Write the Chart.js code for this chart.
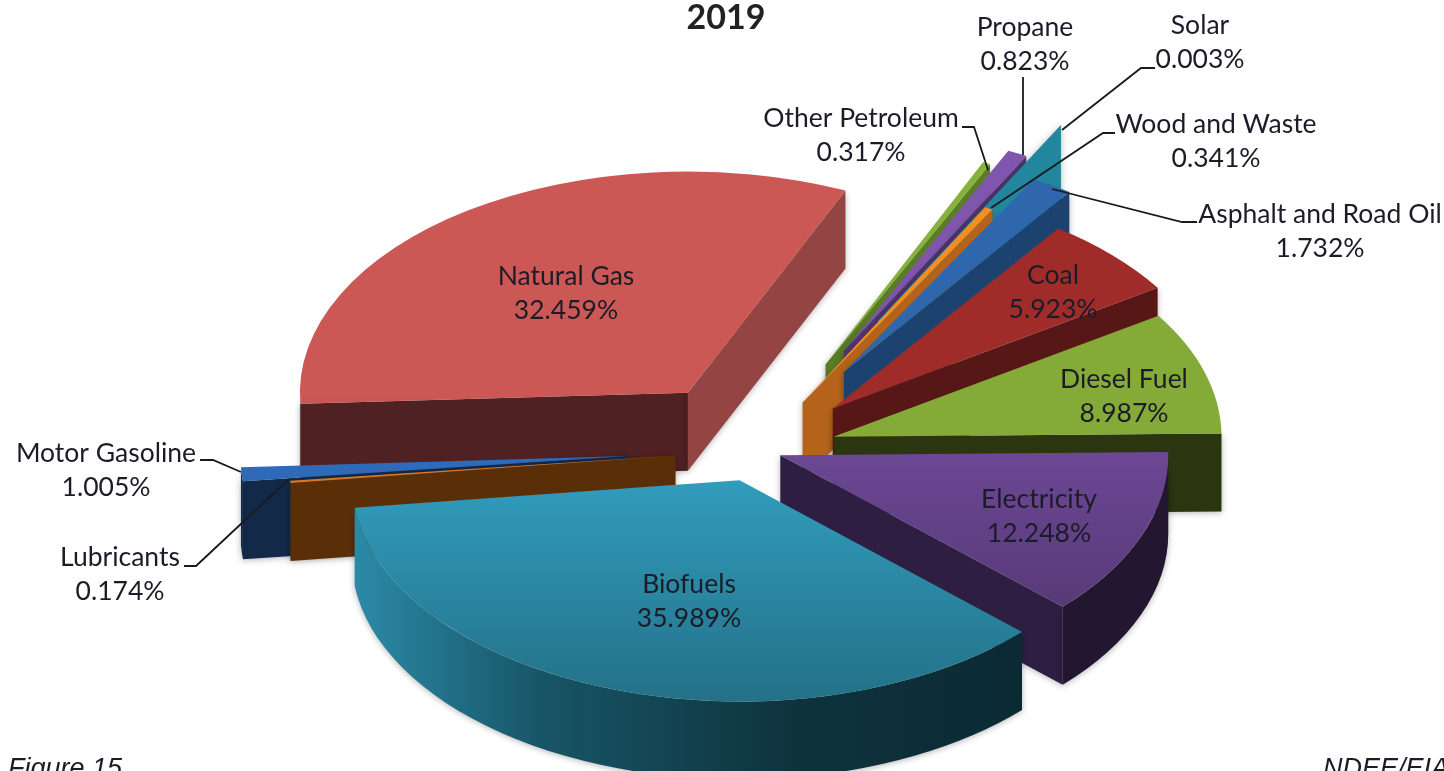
<!DOCTYPE html>
<html>
<head>
  <meta charset="utf-8">
  <script src="https://cdn.jsdelivr.net/npm/chart.js"></script>
  <style>
    html, body { margin: 0; padding: 0; background: #fff; overflow: hidden; }
    canvas { display: block; }
  </style>
</head>
<body>
  <canvas id="pieChart" width="1444" height="771"></canvas>
  <script>
    // clockwise from the left edge of Natural Gas
    const categories = ['Natural Gas', 'Other Petroleum', 'Propane', 'Solar', 'Wood and Waste', 'Asphalt and Road Oil',
      'Coal', 'Diesel Fuel', 'Electricity', 'Biofuels', 'Lubricants', 'Motor Gasoline'];
    const shares = [32.459, 0.317, 0.823, 0.003, 0.341, 1.732, 5.923, 8.987, 12.248, 35.989, 0.174, 1.005];

    const topColors = ['#cc5855', '#86b13c', '#7f55ad', '#2d8ea8', '#f28e24', '#2f67ad',
      '#a02c2a', '#84aa38', '#6c4794', '#319cbc', '#e07a20', '#2f6cbc'];
    // colour of the cut faces of each slice
    const startFaceColors = ['#4f2122', '#5a7c25', '#4f3570', '#23869f', '#b5631a', '#1c426f',
      '#571716', '#2b3510', '#2d1e42', '#0e333d', '#5a2f08', '#13294a'];
    const endFaceColors = ['#944442', '#5a7c25', '#4f3570', '#23869f', '#b5631a', '#1c426f',
      '#571716', '#2b3510', '#2d1e42', '#0e333d', '#5a2f08', '#13294a'];
    const rimColors = ['#4f2122', '#5a7c25', '#4f3570', '#23869f', '#b5631a', '#1c426f',
      '#571716', '#2b3510', '#221631', null, '#5a2f08', '#13294a'];

    // how far each slice is pulled out, px along its middle angle
    const explode = [122, 165, 194, 258, 95, 162, 105, 80, 25, 56, 82, 129];
    const paintOrder = ['Natural Gas', 'Other Petroleum', 'Propane', 'Solar', 'Wood and Waste', 'Asphalt and Road Oil',
      'Coal', 'Diesel Fuel', 'Motor Gasoline', 'Lubricants', 'Electricity', 'Biofuels'];

    // centre x, y of the two line label
    const labelSpots = [[566, 276], [861, 118], [1025, 27], [1200, 25], [1216, 124], [1320, 214],
      [1053, 275], [1124, 379], [1039, 499], [689, 584], [120, 557], [106, 453]];
    const leaders = [
      [[962, 127], [974, 127], [988, 170]],
      [[1023, 77], [1023, 155]],
      [[1155, 68], [1141, 68], [1062, 130]],
      [[1115, 133], [1103, 133], [991, 208]],
      [[1197, 222], [1182, 222], [1052, 189]],
      [[200, 460], [213, 460], [241, 472]],
      [[184, 566], [196, 566], [289, 479]]
    ];

    const centerX = 757, centerY = 450;
    const pieRadius = 388, squash = 0.57, depth = 78;
    const labelFont = '26.5px Lato';
    const textColor = '#1c1c28';

    function fillFace(ctx, color, ax, ay, px, py) {
      ctx.fillStyle = color;
      ctx.beginPath();
      ctx.moveTo(ax, ay);
      ctx.lineTo(px, py);
      ctx.lineTo(px, py + depth);
      ctx.lineTo(ax, ay + depth);
      ctx.closePath();
      ctx.fill();
    }

    function fillRim(ctx, i, ax, ay, from, to) {
      const r = pieRadius;
      if (rimColors[i]) {
        ctx.fillStyle = rimColors[i];
      } else {
        const g = ctx.createLinearGradient(ax - r, 0, ax + r * 0.75, 0);
        g.addColorStop(0, '#2c8ba8');
        g.addColorStop(0.28, '#175566');
        g.addColorStop(0.65, '#0e333d');
        g.addColorStop(1, '#0b2a33');
        ctx.fillStyle = g;
      }
      ctx.beginPath();
      ctx.ellipse(ax, ay, r, r * squash, 0, from, to);
      ctx.ellipse(ax, ay + depth, r, r * squash, 0, to, from, true);
      ctx.closePath();
      ctx.fill();
    }

    function drawSlice(ctx, arc, i) {
      const r = pieRadius;
      const tau = Math.PI * 2;
      const mid = (arc.startAngle + arc.endAngle) / 2;
      const ax = centerX + explode[i] * Math.cos(mid);
      const ay = centerY + explode[i] * Math.sin(mid) * squash;
      const start = ((arc.startAngle % tau) + tau) % tau;
      const end = start + (arc.endAngle - arc.startAngle);

      ctx.save();
      ctx.shadowColor = 'rgba(0,0,0,0.3)';
      ctx.shadowBlur = 6;
      ctx.shadowOffsetY = 1;
      if (Math.cos(start) < 0) {
        fillFace(ctx, startFaceColors[i], ax, ay, ax + r * Math.cos(start), ay + r * Math.sin(start) * squash);
      }
      if (Math.cos(end) > 0) {
        fillFace(ctx, endFaceColors[i], ax, ay, ax + r * Math.cos(end), ay + r * Math.sin(end) * squash);
      }
      // the rim only shows on the near half of the ellipse
      if (start < Math.PI) {
        fillRim(ctx, i, ax, ay, start, Math.min(end, Math.PI));
      }
      if (end > tau) {
        fillRim(ctx, i, ax, ay, tau, Math.min(end, tau + Math.PI));
      }
      ctx.restore();

      // the top face comes from the library's own arc element
      ctx.save();
      ctx.translate(ax, ay);
      ctx.scale(1, squash);
      ctx.translate(-arc.x, -arc.y);
      arc.draw(ctx);
      ctx.restore();

      // light falls off towards the front
      const shade = ctx.createLinearGradient(0, ay, 0, ay + r * squash);
      shade.addColorStop(0, 'rgba(0,0,0,0)');
      shade.addColorStop(1, 'rgba(0,0,0,0.28)');
      ctx.fillStyle = shade;
      ctx.beginPath();
      ctx.moveTo(ax, ay);
      ctx.ellipse(ax, ay, r, r * squash, 0, start, end);
      ctx.closePath();
      ctx.fill();
    }

    const pie3d = {
      id: 'pie3d',
      beforeDatasetsDraw(chart) {
        const arcs = chart.getDatasetMeta(0).data;
        paintOrder.forEach(name => {
          const i = categories.indexOf(name);
          drawSlice(chart.ctx, arcs[i], i);
        });
        return false;
      },
      afterDraw(chart) {
        const ctx = chart.ctx;
        ctx.save();
        ctx.strokeStyle = '#1a1a1a';
        ctx.lineWidth = 1.8;
        leaders.forEach(line => {
          ctx.beginPath();
          line.forEach((p, k) => k ? ctx.lineTo(p[0], p[1]) : ctx.moveTo(p[0], p[1]));
          ctx.stroke();
        });

        ctx.fillStyle = textColor;
        ctx.font = labelFont;
        ctx.textAlign = 'center';
        ctx.textBaseline = 'middle';
        categories.forEach((name, i) => {
          const [x, y] = labelSpots[i];
          ctx.fillText(name, x, y);
          ctx.fillText(shares[i].toFixed(3) + '%', x, y + 34.5);
        });

        ctx.font = 'italic 27px "Liberation Sans"';
        ctx.textAlign = 'left';
        ctx.textBaseline = 'alphabetic';
        ctx.fillText('Figure 15', 8, 777);
        ctx.fillText('NDEE/EIA', 1323, 777);
        ctx.restore();
      }
    };

    new Chart(document.getElementById('pieChart'), {
      type: 'pie',
      data: {
        labels: categories,
        datasets: [{
          data: shares,
          backgroundColor: topColors,
          borderWidth: 0,
          radius: pieRadius
        }]
      },
      options: {
        responsive: false,
        animation: false,
        rotation: 267.1,
        layout: { padding: { left: 8 } },
        events: [],
        plugins: {
          legend: { display: false },
          tooltip: { enabled: false },
          title: {
            display: true,
            text: '2019',
            color: '#222',
            padding: 0,
            font: { family: 'Lato', size: 34, weight: 'bold', lineHeight: 1.05 }
          }
        }
      },
      plugins: [pie3d]
    });
  </script>
</body>
</html>
